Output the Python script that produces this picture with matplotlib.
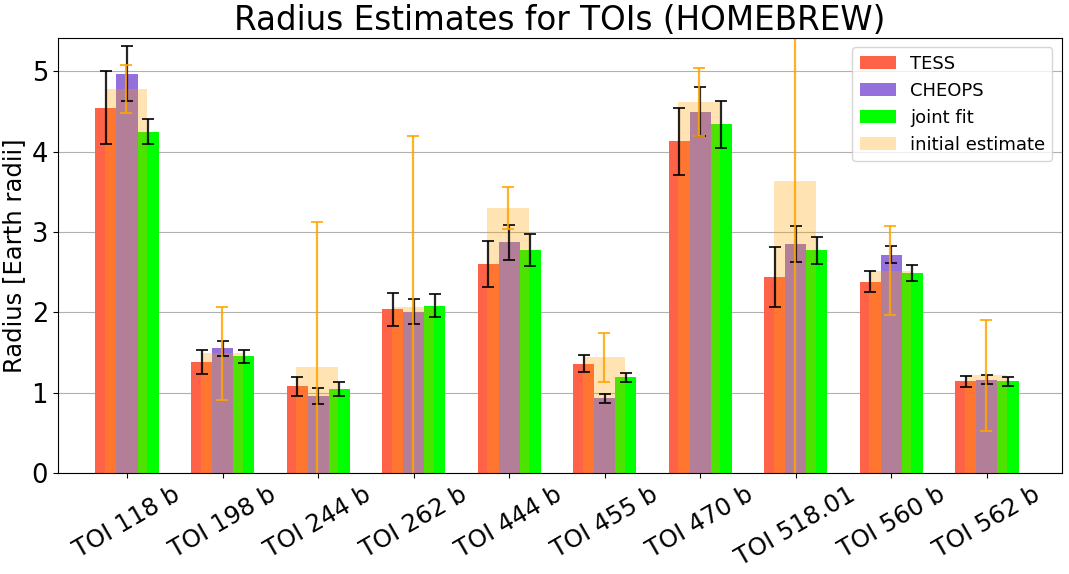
import numpy as np
import matplotlib
matplotlib.use('Agg')
import matplotlib.pyplot as plt

# planet names
planets = ['TOI 118 b', 'TOI 198 b', 'TOI 244 b', 'TOI 262 b', 'TOI 444 b',
           'TOI 455 b', 'TOI 470 b', 'TOI 518.01', 'TOI 560 b', 'TOI 562 b']

# radii in Earth radii and 1-sigma errors
tess_r = [4.55, 1.38, 1.08, 2.04, 2.60, 1.36, 4.13, 2.44, 2.38, 1.14]
tess_err = [0.45, 0.15, 0.12, 0.205, 0.29, 0.105, 0.42, 0.375, 0.13, 0.07]
cheops_r = [4.97, 1.55, 0.96, 2.01, 2.87, 0.93, 4.50, 2.85, 2.72, 1.16]
cheops_err = [0.34, 0.093, 0.10, 0.155, 0.22, 0.056, 0.31, 0.22, 0.107, 0.055]
joint_r = [4.25, 1.455, 1.045, 2.08, 2.78, 1.19, 4.34, 2.77, 2.49, 1.14]
joint_err = [0.16, 0.08, 0.087, 0.143, 0.20, 0.056, 0.29, 0.163, 0.10, 0.06]
init_r = [4.78, 1.49, 1.32, 2.07, 3.30, 1.44, 4.62, 3.63, 2.52, 1.215]
init_err = [0.30, 0.58, 1.80, 2.12, 0.26, 0.305, 0.425, 4.0, 0.555, 0.695]

x = np.arange(len(planets))
w = 0.22

fig, ax = plt.subplots(figsize=(10.69, 5.74), dpi=100)
ekw = dict(capsize=4, elinewidth=1.6, capthick=1.4, alpha=0.85)
ax.bar(x - w, tess_r, w, yerr=tess_err, color='tomato', label='TESS',
       ecolor='black', error_kw=ekw)
ax.bar(x, cheops_r, w, yerr=cheops_err, color='mediumpurple', label='CHEOPS',
       ecolor='black', error_kw=ekw)
ax.bar(x + w, joint_r, w, yerr=joint_err, color='lime', label='joint fit',
       ecolor='black', error_kw=ekw)
ax.bar(x - 0.01, init_r, 2 * w, yerr=init_err, color='orange', alpha=0.3,
       label='initial estimate', ecolor='orange', error_kw=ekw)

ax.set_xticks(x)
ax.set_xticklabels(planets, rotation=30, fontsize=17.5)
ax.tick_params(axis='y', labelsize=18.5)
ax.set_ylabel('Radius [Earth radii]', fontsize=17.5)
ax.set_title('Radius Estimates for TOIs (HOMEBREW)', fontsize=23.5)
ax.set_xlim(-0.725, 9.78)
ax.set_ylim(0, 5.41)
ax.yaxis.grid(True, color='#b0b0b0')
ax.set_axisbelow(True)
ax.legend(loc='upper right', fontsize=13)

plt.subplots_adjust(left=0.054, right=0.993, top=0.933, bottom=0.176)
plt.savefig('out.png')
